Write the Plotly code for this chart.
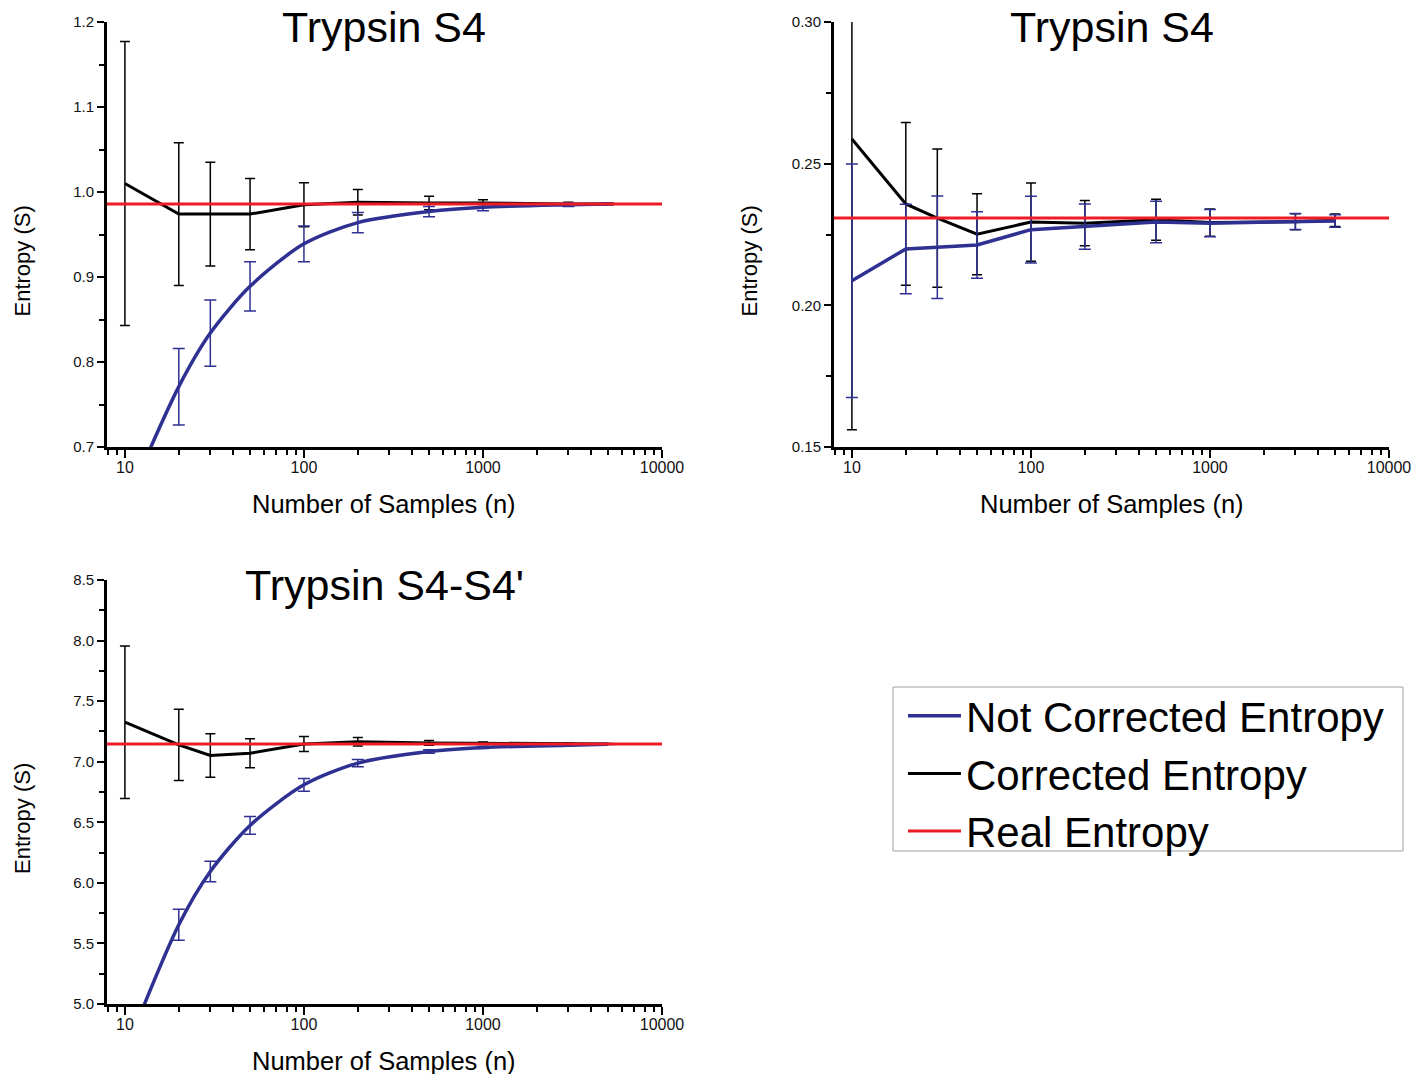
import plotly.graph_objects as go

W, H = 1424, 1074

# ---------------- data ----------------
n_samples = [10, 20, 30, 50, 100, 200, 500, 1000, 3000, 5000]

# Panel 1: Trypsin S4 (top-left)
p1_corr = [1.010, 0.974, 0.974, 0.974, 0.985, 0.988, 0.987, 0.987, 0.986, 0.986]
p1_corr_err = [0.167, 0.084, 0.061, 0.042, 0.026, 0.015, 0.008, 0.004, 0.002, 0.001]
p1_nc = [0.63, 0.771, 0.834, 0.889, 0.939, 0.964, 0.977, 0.982, 0.985, 0.986]
p1_nc_err = [0.05, 0.045, 0.039, 0.029, 0.021, 0.012, 0.006, 0.004, 0.002, 0.001]
p1_real = 0.986

# Panel 2: Trypsin S4 (top-right)
p2_corr = [0.2587, 0.2358, 0.2308, 0.2251, 0.2294, 0.2290, 0.2302, 0.2292, 0.2295, 0.2300]
p2_corr_err = [0.1026, 0.0287, 0.0244, 0.0143, 0.0138, 0.0080, 0.0072, 0.0048, 0.0028, 0.0022]
p2_nc = [0.2087, 0.2199, 0.2205, 0.2213, 0.2267, 0.2278, 0.2294, 0.2290, 0.2296, 0.2298]
p2_nc_err = [0.0412, 0.0158, 0.0181, 0.0117, 0.0118, 0.0080, 0.0073, 0.0048, 0.0028, 0.0022]
p2_real = 0.2308

# Panel 3: Trypsin S4-S4' (bottom-left)
p3_corr = [7.326, 7.139, 7.051, 7.070, 7.147, 7.164, 7.155, 7.153, 7.150, 7.147]
p3_corr_err = [0.63, 0.295, 0.18, 0.12, 0.062, 0.035, 0.02, 0.01, 0.005, 0.003]
p3_nc = [4.6, 5.654, 6.094, 6.474, 6.809, 6.988, 7.084, 7.117, 7.136, 7.144]
p3_nc_err = [0.2, 0.128, 0.084, 0.073, 0.052, 0.03, 0.015, 0.008, 0.004, 0.002]
p3_real = 7.147

titles = ["Trypsin S4", "Trypsin S4", "Trypsin S4-S4'"]
x_tick_vals = [10, 100, 1000, 10000]
x_tick_text = ["10", "100", "1000", "10000"]
legend_names = ["Not Corrected Entropy", "Corrected Entropy", "Real Entropy"]

# ---------------- style ----------------
BLUE = "#2E3192"
BLACK = "#000000"
RED = "#EE1C25"
FONT = "Liberation Sans, Arial, sans-serif"

fig = go.Figure()

panels = [
    dict(corr=p1_corr, corr_err=p1_corr_err, nc=p1_nc, nc_err=p1_nc_err, real=p1_real,
         spline=True, ax="", px=(107, 662), py=(22, 447), yr=[0.7, 1.2], dt=0.1, mdt=0.05, fmt=".1f"),
    dict(corr=p2_corr, corr_err=p2_corr_err, nc=p2_nc, nc_err=p2_nc_err, real=p2_real,
         spline=False, ax="2", px=(834, 1389), py=(22, 447), yr=[0.15, 0.30], dt=0.05, mdt=0.025, fmt=".2f"),
    dict(corr=p3_corr, corr_err=p3_corr_err, nc=p3_nc, nc_err=p3_nc_err, real=p3_real,
         spline=True, ax="3", px=(107, 662), py=(580, 1004), yr=[5.0, 8.5], dt=0.5, mdt=0.25, fmt=".1f"),
]

minor_x = [v * d for d in (10, 100, 1000) for v in range(2, 10)] + [8, 9]

for i, p in enumerate(panels):
    xa = "x" + p["ax"]
    ya = "y" + p["ax"]
    first = i == 0
    # corrected (black)
    fig.add_trace(go.Scatter(
        x=n_samples, y=p["corr"], mode="lines", xaxis=xa, yaxis=ya,
        name=legend_names[1], legendgroup="c", showlegend=first, legendrank=2,
        line=dict(color=BLACK, width=3),
        error_y=dict(type="data", array=p["corr_err"], visible=True,
                     color=BLACK, thickness=1.5, width=5),
    ))
    # not corrected (blue)
    fig.add_trace(go.Scatter(
        x=n_samples, y=p["nc"], mode="lines", xaxis=xa, yaxis=ya,
        name=legend_names[0], legendgroup="nc", showlegend=first, legendrank=1,
        line=dict(color=BLUE, width=3.5, shape="spline" if p["spline"] else "linear", smoothing=0.8),
        error_y=dict(type="data", array=p["nc_err"], visible=True,
                     color=BLUE, thickness=1.5, width=6),
    ))
    # real entropy (red) - horizontal reference line across the axis
    fig.add_shape(type="line", xref=xa + " domain", yref=ya, x0=0, x1=1,
                  y0=p["real"], y1=p["real"], line=dict(color=RED, width=3), layer="above")
    if first:
        fig.add_trace(go.Scatter(
            x=[None], y=[None], mode="lines", xaxis=xa, yaxis=ya,
            name=legend_names[2], legendgroup="r", showlegend=True, legendrank=3,
            line=dict(color=RED, width=3),
        ))

    x0, x1 = p["px"]
    y0, y1 = p["py"]
    xkey = "xaxis" + p["ax"]
    ykey = "yaxis" + p["ax"]
    fig.update_layout(**{
        xkey: dict(
            type="log", range=[0.9, 4], domain=[x0 / W, x1 / W], anchor=ya,
            automargin=False,
            showgrid=False, zeroline=False, showline=True, linecolor=BLACK, linewidth=3,
            ticks="outside", ticklen=8, tickwidth=2, tickcolor=BLACK,
            tickmode="array", tickvals=x_tick_vals, ticktext=x_tick_text,
            tickfont=dict(family=FONT, size=16, color="#111"),
            ticklabelstandoff=-4,
            minor=dict(tickmode="array", tickvals=minor_x, ticks="outside",
                       ticklen=5, tickwidth=2, tickcolor=BLACK, showgrid=False),
        ),
        ykey: dict(
            range=p["yr"], domain=[1 - y1 / H, 1 - y0 / H], anchor=xa,
            automargin=False,
            showgrid=False, zeroline=False, showline=True, linecolor=BLACK, linewidth=3,
            ticks="outside", ticklen=7, tickwidth=2, tickcolor=BLACK,
            dtick=p["dt"], tick0=p["yr"][0], tickformat=p["fmt"],
            tickfont=dict(family=FONT, size=15, color="#111"),
            minor=dict(dtick=p["mdt"], tick0=p["yr"][0], ticks="outside",
                       ticklen=5, tickwidth=2, tickcolor=BLACK, showgrid=False),
        ),
    })
    cx = (x0 + x1) / 2
    # panel title
    fig.add_annotation(text=titles[i], xref="paper", yref="paper",
                       x=cx / W, y=1 - (y0 + 5) / H, xanchor="center", yanchor="middle",
                       showarrow=False, font=dict(family=FONT, size=43, color=BLACK))
    # x-axis title
    fig.add_annotation(text="Number of Samples (n)", xref="paper", yref="paper",
                       x=cx / W, y=1 - (y1 + 57) / H, xanchor="center", yanchor="middle",
                       showarrow=False, font=dict(family=FONT, size=25.5, color=BLACK))
    # y-axis title
    fig.add_annotation(text="Entropy (S)", xref="paper", yref="paper",
                       x=(x0 - 85) / W, y=1 - ((y0 + y1) / 2 + 27) / H,
                       xanchor="center", yanchor="middle", textangle=-90,
                       showarrow=False, font=dict(family=FONT, size=22, color=BLACK))

# legend frame
fig.add_shape(type="rect", xref="paper", yref="paper",
              x0=893 / W, x1=1403 / W, y0=1 - 851 / H, y1=1 - 687 / H,
              line=dict(color="#A0A0A0", width=1), fillcolor="rgba(0,0,0,0)")

fig.update_layout(
    width=W, height=H,
    margin=dict(l=0, r=0, t=0, b=0, autoexpand=False),
    paper_bgcolor="white", plot_bgcolor="white",
    font=dict(family=FONT, color=BLACK),
    showlegend=True,
    legend=dict(
        x=903 / W, y=1 - 682 / H, xanchor="left", yanchor="top",
        bgcolor="rgba(0,0,0,0)", borderwidth=0,
        font=dict(family=FONT, size=42, color=BLACK),
        traceorder="normal", itemwidth=53, tracegroupgap=0,
    ),
)

fig.write_html("out.html")
